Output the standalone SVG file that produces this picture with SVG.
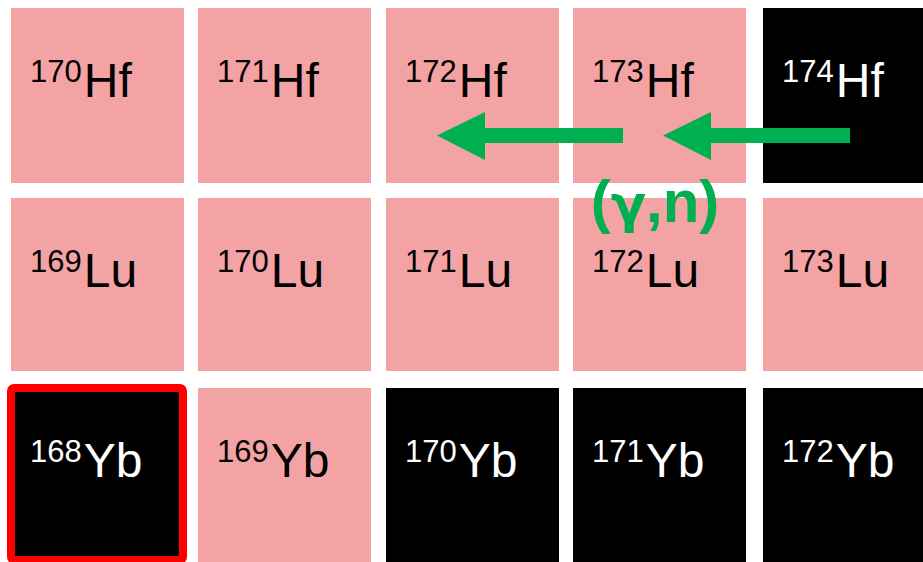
<svg xmlns="http://www.w3.org/2000/svg" width="923" height="562" viewBox="0 0 923 562">
<style>
.p{fill:#F4A3A5}
.k{fill:#000}
.t{font-family:"Liberation Sans",Arial,sans-serif;font-size:48px;fill:#000}
.w{fill:#fff}
.s{font-size:31px}
.g{font-family:"Liberation Sans",Arial,sans-serif;font-weight:bold;font-size:60px;fill:#00B050}
.gm{font-family:"DejaVu Sans",sans-serif;font-size:52px}
</style>
<rect width="923" height="562" fill="#fff"/>
<g id="hf170"><rect class="p" x="11" y="8" width="173" height="175"/><text class="t" x="30" y="97"><tspan class="s" dy="-15">170</tspan><tspan dy="15" dx="2">Hf</tspan></text></g>
<g id="hf171"><rect class="p" x="198" y="8" width="173" height="175"/><text class="t" x="217" y="97"><tspan class="s" dy="-15">171</tspan><tspan dy="15" dx="2">Hf</tspan></text></g>
<g id="hf172"><rect class="p" x="386" y="8" width="173" height="175"/><text class="t" x="405" y="97"><tspan class="s" dy="-15">172</tspan><tspan dy="15" dx="2">Hf</tspan></text></g>
<g id="hf173"><rect class="p" x="573" y="8" width="173" height="175"/><text class="t" x="592" y="97"><tspan class="s" dy="-15">173</tspan><tspan dy="15" dx="2">Hf</tspan></text></g>
<g id="hf174"><rect class="k" x="763" y="8" width="160" height="175"/><text class="t w" x="782" y="97"><tspan class="s" dy="-15">174</tspan><tspan dy="15" dx="2">Hf</tspan></text></g>

<g id="lu169"><rect class="p" x="11" y="198" width="173" height="173"/><text class="t" x="30" y="287"><tspan class="s" dy="-15">169</tspan><tspan dy="15" dx="2">Lu</tspan></text></g>
<g id="lu170"><rect class="p" x="198" y="198" width="173" height="173"/><text class="t" x="217" y="287"><tspan class="s" dy="-15">170</tspan><tspan dy="15" dx="2">Lu</tspan></text></g>
<g id="lu171"><rect class="p" x="386" y="198" width="173" height="173"/><text class="t" x="405" y="287"><tspan class="s" dy="-15">171</tspan><tspan dy="15" dx="2">Lu</tspan></text></g>
<g id="lu172"><rect class="p" x="573" y="198" width="173" height="173"/><text class="t" x="592" y="287"><tspan class="s" dy="-15">172</tspan><tspan dy="15" dx="2">Lu</tspan></text></g>
<g id="lu173"><rect class="p" x="763" y="198" width="160" height="173"/><text class="t" x="782" y="287"><tspan class="s" dy="-15">173</tspan><tspan dy="15" dx="2">Lu</tspan></text></g>

<g id="yb168"><rect x="11" y="388" width="172" height="172" rx="3" fill="#000" stroke="#FF0000" stroke-width="8"/><text class="t w" x="30" y="477"><tspan class="s" dy="-15">168</tspan><tspan dy="15" dx="2">Yb</tspan></text></g>
<g id="yb169"><rect class="p" x="198" y="388" width="173" height="174"/><text class="t" x="217" y="477"><tspan class="s" dy="-15">169</tspan><tspan dy="15" dx="2">Yb</tspan></text></g>
<g id="yb170"><rect class="k" x="386" y="388" width="173" height="174"/><text class="t w" x="405" y="477"><tspan class="s" dy="-15">170</tspan><tspan dy="15" dx="2">Yb</tspan></text></g>
<g id="yb171"><rect class="k" x="573" y="388" width="173" height="174"/><text class="t w" x="592" y="477"><tspan class="s" dy="-15">171</tspan><tspan dy="15" dx="2">Yb</tspan></text></g>
<g id="yb172"><rect class="k" x="763" y="388" width="160" height="174"/><text class="t w" x="782" y="477"><tspan class="s" dy="-15">172</tspan><tspan dy="15" dx="2">Yb</tspan></text></g>

<g id="connectors" fill="#00B050">
<polygon points="850,128 711,128 711,112 663,135.5 711,160 711,143 850,143"/>
<polygon points="623,128 485,128 485,112 437,135.5 485,160 485,143 623,143"/>
</g>
<g id="label"><text class="g" x="655" y="222" text-anchor="middle">(<tspan class="gm">γ</tspan>,n)</text></g>
</svg>
